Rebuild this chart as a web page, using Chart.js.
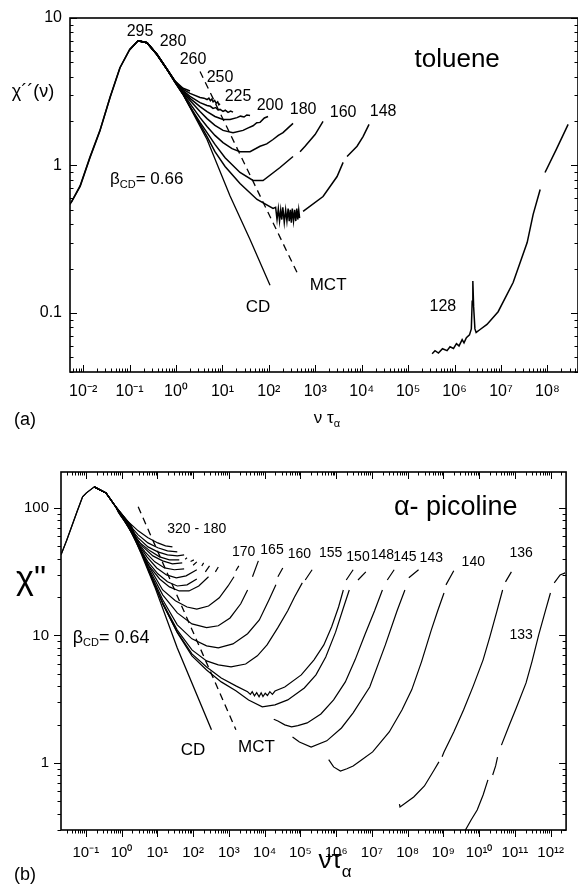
<!DOCTYPE html>
<html><head><meta charset="utf-8">
<script src="https://cdn.jsdelivr.net/npm/chart.js@4.4.0/dist/chart.umd.min.js"></script>
<style>
html,body{margin:0;padding:0;background:#fff;width:578px;height:885px;overflow:hidden}
canvas{position:absolute;left:0}
#ca{top:0}
#cb{top:440px}
</style></head><body>
<canvas id="ca" width="578" height="440"></canvas>
<canvas id="cb" width="578" height="445"></canvas>
<script>
const FONT = '"Liberation Sans", Arial, Helvetica, sans-serif';

// ---------- Panel (a): toluene ----------
const xTickValuesA = [1e-2,1e-1,1e0,1e1,1e2,1e3,1e4,1e5,1e6,1e7,1e8];
const xTickLabelsA = ['10⁻²','10⁻¹','10⁰','10¹','10²','10³','10⁴','10⁵','10⁶','10⁷','10⁸'];
const yTickValuesA = [0.1,1,10];
const yTickLabelsA = ['0.1','1','10'];

const tol295 = [[0.0052,0.544],[0.0086,0.72],[0.014,1.13],[0.023,1.72],[0.038,2.9],[0.062,4.6],[0.10,6.1],[0.152,7.0],[0.237,6.8],[0.389,5.66],[0.64,4.48],[0.95,3.71],[1.22,3.40]];
const tol280 = [[0.0055,0.56],[0.0086,0.73],[0.014,1.14],[0.023,1.73],[0.038,2.9],[0.062,4.6],[0.10,6.1],[0.152,7.0],[0.237,6.8],[0.389,5.66],[0.64,4.5],[0.95,3.74],[1.42,3.34],[2.0,3.2]];
const tol260 = [[0.10,6.1],[0.152,7.0],[0.237,6.8],[0.389,5.68],[0.64,4.5],[0.95,3.73],[1.42,3.28],[2.0,3.08],[3.29,2.89],[4.0,2.86],[4.66,2.80],[5.1,2.86],[5.5,2.75],[5.9,2.82],[6.3,2.70],[6.8,2.76],[7.3,2.64],[7.9,2.70],[8.4,2.58],[8.88,2.62]];
const tol250 = [[0.10,6.1],[0.152,7.0],[0.237,6.8],[0.389,5.66],[0.64,4.48],[0.95,3.72],[1.42,3.22],[2.0,2.94],[3.29,2.67],[4.66,2.55],[5.5,2.52],[6.27,2.44],[7.2,2.47],[8.0,2.38],[8.88,2.40],[10.3,2.33],[11.5,2.37],[13.2,2.29],[15.0,2.34],[16.9,2.30]];
const tol225 = [[0.152,7.0],[0.237,6.8],[0.389,5.66],[0.64,4.48],[0.95,3.71],[1.42,3.17],[2.0,2.85],[3.29,2.51],[4.66,2.32],[6.9,2.15],[10.3,2.05],[14.6,2.05],[20.6,2.11],[24.5,2.16],[29.2,2.13],[33.5,2.20],[39.3,2.18]];
const tol200 = [[0.152,7.0],[0.237,6.8],[0.389,5.66],[0.64,4.48],[0.95,3.70],[1.42,3.12],[2.0,2.76],[3.29,2.32],[4.66,2.08],[6.9,1.87],[10.3,1.73],[16.9,1.67],[27.8,1.73],[36,1.80],[45.6,1.86],[55,1.95],[64.6,1.96],[80,2.10],[96.1,2.15]];
const tol180 = [[0.152,7.0],[0.237,6.8],[0.389,5.66],[0.64,4.48],[0.95,3.69],[1.42,3.08],[2.0,2.63],[3.29,2.11],[4.66,1.84],[6.9,1.60],[10.3,1.43],[16.1,1.30],[23.9,1.24],[39.3,1.24],[64.6,1.35],[90,1.40],[123,1.50],[160,1.60],[202,1.67],[260,1.80],[332,1.93]];
const tol160 = [[0.152,7.0],[0.237,6.8],[0.389,5.66],[0.64,4.48],[0.95,3.68],[1.42,3.03],[2.0,2.51],[3.29,1.96],[4.66,1.67],[6.9,1.39],[11.4,1.13],[23.9,0.897],[45.6,0.791],[75,0.791],[174,0.969],[332,1.15],[400,null],[470,1.24],[603,1.35],[990,1.62],[1470,1.99]];
const tol148 = [[0.152,7.0],[0.237,6.8],[0.389,5.66],[0.64,4.48],[0.95,3.68],[1.42,3.03],[2.0,2.51],[3.29,1.90],[4.66,1.57],[6.9,1.24],[11.4,0.985],[23.9,0.755],[55.7,0.588],[123,0.511],[140,0.52],[150,0.43],[160,0.51],[170,0.42],[180,0.50],[190,0.43],[200,0.52],[215,0.41],[230,0.50],[245,0.42],[260,0.51],[275,0.42],[290,0.50],[305,0.41],[320,0.51],[340,0.42],[360,0.50],[380,0.42],[400,0.51],[420,0.43],[440,0.50],[460,0.44],[500,null],[546,0.488],[1470,0.616],[2950,0.842],[3980,1.05],[4400,null],[4840,1.15],[7950,1.35],[1.07e4,1.57],[1.44e4,1.90]];
const tol128 = [[3.29e5,0.053],[3.8e5,0.0555],[4.5e5,0.0535],[5.5e5,0.0572],[6.9e5,0.0555],[8.0e5,0.059],[9.5e5,0.0575],[1.1e6,0.062],[1.25e6,0.0598],[1.46e6,0.066],[1.6e6,0.0628],[1.8e6,0.068],[2.1e6,0.071],[2.3e6,0.078],[2.4e6,0.12],[2.48e6,0.165],[2.58e6,0.11],[2.75e6,0.078],[2.92e6,0.0738],[3.5e6,0.077],[5.0e6,0.0836],[8.7e6,0.102],[1.83e7,0.161],[3.67e7,0.30],[4.94e7,0.466],[7.0e7,0.687],[7.9e7,null],[8.9e7,0.897],[1.55e8,1.28],[2.8e8,1.90]];
const cdTol = [[0.64,4.48],[0.95,3.66],[1.42,3.03],[4.66,1.50],[14.6,0.62],[39.3,0.315],[106,0.154]];
const mctTol = [[3.29,4.34],[405,0.188]];

// ---------- Panel (b): alpha-picoline ----------
const xTickValuesB = [1e-1,1e0,1e1,1e2,1e3,1e4,1e5,1e6,1e7,1e8,1e9,1e10,1e11,1e12];
const xTickLabelsB = ['10⁻¹','10⁰','10¹','10²','10³','10⁴','10⁵','10⁶','10⁷','10⁸','10⁹','10¹⁰','10¹¹','10¹²'];
const yTickValuesB = [1,10,100];
const yTickLabelsB = ['1','10','100'];

const pic320 = [[0.0202,42.8],[0.0295,56.1],[0.0553,91.4],[0.081,122],[0.104,131],[0.172,146],[0.366,131],[0.685,102],[0.828,93.1],[1.55,77.6],[2.91,66.0],[5.47,58.2],[10.3,53.1],[16.9,50.3],[26.4,49.4]];
const picB2 = [[0.0205,43.2],[0.0295,56.3],[0.0553,91.6],[0.081,122],[0.104,131],[0.172,146],[0.366,131],[0.685,102],[0.828,91.4],[1.55,75.0],[2.91,61.4],[5.47,53.1],[10.3,48.6],[19.2,46.0],[36.1,45.2]];
const picB3 = [[0.172,146],[0.366,131],[0.685,102],[0.939,86.5],[1.55,72.2],[2.91,58.2],[5.47,49.4],[10.3,45.2],[19.2,42.8],[36.1,42.0],[56.1,42.8]];
const picB4 = [[0.172,146],[0.366,131],[0.685,102],[1.06,83.5],[1.76,67.2],[3.30,53.1],[6.20,46.0],[11.6,41.3],[21.8,39.1],[41.0,39.1],[52,null],[60,39.6],[67.7,40.6]];
const picB5 = [[0.172,146],[0.366,131],[0.685,102],[1.13,80.6],[2.13,61.4],[3.99,49.4],[7.49,42.0],[14.1,38.4],[26.4,36.4],[49.6,37.0],[70,null],[85,38.0],[105,39.1]];
const picB6 = [[0.172,146],[0.366,131],[0.685,102],[1.21,79.1],[2.41,57.1],[4.52,45.2],[8.49,37.7],[15.9,33.8],[29.9,32.7],[56.1,33.2],[80,null],[100,35.5],[127,37.7]];
const picB7 = [[0.172,146],[0.366,131],[0.685,102],[1.29,77.6],[2.74,53.1],[5.13,41.3],[9.62,33.8],[18.0,29.8],[33.9,28.3],[63.6,29.3],[127,32.7],[160,null],[175,35.0],[197,37.0]];
const picB8 = [[0.172,146],[0.366,131],[0.685,102],[1.37,76.2],[2.91,50.3],[5.47,37.7],[10.3,30.4],[19.2,26.3],[36.1,24.4],[67.7,24.9],[127,27.7],[180,null],[220,31.5],[288,35.1]];
const pic180 = [[0.172,146],[0.366,131],[0.685,102],[1.46,75.0],[3.30,46.0],[6.20,34.4],[11.6,27.7],[21.8,24.0],[41.0,22.3],[76.7,22.3],[144,24.4],[270,28.8],[350,null],[420,31.5],[507,34.4]];
const pic170 = [[0.172,146],[0.366,131],[0.685,102],[1.55,76.2],[5.47,35.7],[14.1,22.7],[31.9,18.7],[67.7,16.7],[127,16.1],[270,17.0],[540,19.7],[950,24.4],[1390,28.8],[1480,null],[1570,32.1],[1900,35.1]];
const pic165 = [[0.685,102],[1.65,75.0],[5.47,34.4],[14.1,20.8],[36.1,15.0],[92.8,12.3],[238,11.5],[507,11.9],[1080,13.7],[2150,17.7],[3340,22.7],[3900,null],[4580,28.8],[6680,38.4]];
const pic160 = [[0.685,102],[1.76,73.6],[5.47,33.8],[14.1,19.0],[36.1,12.1],[92.8,9.4],[238,8.27],[507,7.98],[1300,8.57],[3340,10.3],[7110,13.2],[1.33e4,19.0],[2.07e4,24.9],[2.2e4,null],[2.35e4,28.8],[3.22e4,33.8]];
const pic155 = [[0.685,102],[1.88,72.2],[5.47,33.2],[14.1,18.0],[36.1,11.0],[92.8,7.69],[238,6.31],[507,5.87],[1150,5.66],[2950,5.97],[6270,6.91],[1.17e4,8.42],[2.35e4,11.5],[4.43e4,15.6],[6.86e4,20.0],[1.13e5,25.8],[1.25e5,null],[1.37e5,27.2],[2.13e5,32.7]];
const pic150 = [[5.47,33.2],[14.1,17.7],[36.1,10.6],[92.8,7.16],[238,5.66],[612,4.64],[1570,4.02],[3340,3.61],[4000,3.45],[4500,3.62],[5200,3.36],[6000,3.56],[7000,3.30],[8000,3.55],[9000,3.32],[1.04e4,3.52],[1.2e4,3.38],[1.4e4,3.62],[1.65e4,3.45],[1.95e4,3.66],[3.66e4,3.94],[1.06e5,4.9],[2.41e5,6.43],[4.53e5,8.42],[7.5e5,11.7],[1.17e6,16.7],[1.59e6,22.7],[1.75e6,null],[1.92e6,27.2],[2.99e6,32.7]];
const pic148 = [[14.1,17.7],[36.1,10.5],[92.8,6.91],[238,5.36],[612,4.32],[1570,3.68],[3560,3.12],[8590,2.75],[1.95e4,2.85],[4.43e4,3.12],[1.29e5,3.87],[2.73e5,4.9],[5.13e5,6.78],[9.65e5,10.6],[1.59e6,16.4],[2.33e6,22.7],[3.0e6,null],[4.09e6,27.2],[6.77e6,31.5]];
const pic145 = [[1.8e4,2.2],[2.35e4,2.13],[3.66e4,1.99],[5.68e4,1.92],[8.5e4,1.96],[1.55e5,2.06],[3.75e5,2.42],[8.5e5,3.12],[1.81e6,4.32],[3.39e6,6.43],[6.36e6,10.1],[1.19e7,15.6],[1.97e7,22.7],[2.3e7,null],[2.7e7,27.2],[4.2e7,32.7]];
const pic143 = [[6.04e4,1.60],[9.4e4,1.46],[2.0e5,1.33],[5.47e5,1.49],[1.41e6,1.88],[2.99e6,2.47],[8.71e6,3.94],[2.38e7,8.42],[5.07e7,15.6],[8.38e7,22.7],[9.5e7,null],[1.08e8,28.3],[2.02e8,32.7]];
const pic140 = [[6.2e5,1.06],[8.5e5,0.931],[1.32e6,0.865],[2.0e6,0.90],[2.99e6,0.947],[5.0e6,1.05],[1.05e7,1.22],[3.06e7,1.75],[6.93e7,2.6],[1.3e8,3.74],[2.44e8,6.2],[4.58e8,11.0],[7.05e8,15.8],[1.04e9,21.5],[1.1e9,null],[1.18e9,24.9],[1.95e9,32.1]];
const pic136 = [[5.9e7,0.475],[6.12e7,0.452],[9.5e7,0.494],[1.48e8,0.541],[2.95e8,0.66],[5.5e8,0.881],[7.5e8,1.02],[8.3e8,null],[9.2e8,1.12],[1.04e9,1.22],[1.95e9,1.75],[3.66e9,2.6],[6.86e9,4.02],[1.29e10,6.43],[1.99e10,9.73],[3.1e10,15.3],[4.53e10,22.7],[5.0e10,null],[5.46e10,26.3],[7.98e10,31.5]];
const pic133 = [[3.6e9,0.26],[4.14e9,0.298],[5.95e9,0.357],[8.81e9,0.428],[1.29e10,0.561],[1.76e10,0.736],[2.1e10,null],[2.39e10,0.805],[2.89e10,0.947],[3.27e10,1.11],[3.7e10,null],[4.2e10,1.38],[7.03e10,1.99],[1.09e11,2.70],[2.05e11,4.24],[2.99e11,6.2],[4.63e11,10.1],[7.21e11,15.8],[9.85e11,21.5],[1.1e12,null],[1.26e12,25.8],[1.84e12,29.8],[2.54e12,30.9]];
const cdPic = [[0.685,102],[1.88,67.2],[8.49,24.0],[36.1,7.98],[326,1.82]];
const mctPic = [[2.91,102],[1574,1.82]];

// ---------- helpers ----------
function ds(label, pairs, opts) {
  return Object.assign({
    label,
    data: pairs.map(p => ({x: p[0], y: p[1]})),
    showLine: true, borderColor: '#000', borderWidth: 1.5,
    pointRadius: 0, fill: false, tension: 0, spanGaps: false
  }, opts || {});
}
function logMarks(min, max) {
  const out = [];
  for (let e = Math.floor(Math.log10(min)); e <= Math.ceil(Math.log10(max)); e++) {
    for (let k = 1; k <= 9; k++) {
      const v = k * Math.pow(10, e);
      if (v >= min * 0.999 && v <= max * 1.001) out.push({v, major: k === 1});
    }
  }
  return out;
}
const frameTicks = {
  id: 'frameTicks',
  afterDatasetsDraw(chart, args, o) {
    const {ctx, chartArea: a} = chart;
    const xs = chart.scales.x, ys = chart.scales.y;
    ctx.save();
    ctx.strokeStyle = '#000';
    ctx.lineWidth = o.frameWidth;
    ctx.strokeRect(a.left, a.top, a.right - a.left, a.bottom - a.top);
    ctx.lineWidth = o.tickWidth;
    ctx.beginPath();
    for (const m of logMarks(xs.min, xs.max)) {
      const p = Math.round(xs.getPixelForValue(m.v)) + 0.5;
      const L = m.major ? o.major : o.minor;
      if (o.bottom) { const s = o.bottom === 'in' ? -1 : 1; ctx.moveTo(p, a.bottom); ctx.lineTo(p, a.bottom + s * L); }
      if (o.top) { const s = o.top === 'in' ? 1 : -1; ctx.moveTo(p, a.top); ctx.lineTo(p, a.top + s * L); }
    }
    for (const m of logMarks(ys.min, ys.max)) {
      const p = Math.round(ys.getPixelForValue(m.v)) + 0.5;
      const L = m.major ? o.major : o.minor;
      if (o.left) { const s = o.left === 'in' ? 1 : -1; ctx.moveTo(a.left, p); ctx.lineTo(a.left + s * L, p); }
      if (o.right) { const s = o.right === 'in' ? -1 : 1; ctx.moveTo(a.right, p); ctx.lineTo(a.right + s * L, p); }
    }
    ctx.stroke();
    ctx.restore();
  }
};
const annot = {
  id: 'annot',
  afterDraw(chart, args, o) {
    const {ctx} = chart;
    const xs = chart.scales.x, ys = chart.scales.y;
    ctx.save();
    ctx.fillStyle = '#000';
    ctx.textBaseline = 'middle';
    for (const it of o.items) {
      const px = it.px !== undefined ? it.px : xs.getPixelForValue(it.x);
      const py = it.py !== undefined ? it.py : ys.getPixelForValue(it.y);
      const parts = it.parts || [{t: it.t, size: it.size}];
      let total = 0;
      for (const p of parts) { ctx.font = p.size + 'px ' + FONT; total += ctx.measureText(p.t).width; }
      let x0 = it.align === 'left' ? px : px - total / 2;
      ctx.textAlign = 'left';
      for (const p of parts) {
        ctx.font = p.size + 'px ' + FONT;
        ctx.fillText(p.t, x0, py + (p.dy || 0));
        x0 += ctx.measureText(p.t).width;
      }
    }
    ctx.restore();
  }
};
function logAxis(min, max, vals, labels, fontSize, pad, fitSize, dim) {
  return {
    type: 'logarithmic', min, max,
    afterFit(s) { s[dim] = fitSize; },
    afterBuildTicks(s) { s.ticks = vals.map(v => ({value: v})); },
    ticks: {
      autoSkip: false, maxRotation: 0, minRotation: 0, padding: pad, color: '#000',
      font: {family: FONT, size: fontSize},
      callback: (v) => { const i = vals.indexOf(v); return i < 0 ? '' : labels[i]; }
    },
    grid: {display: false, drawTicks: false},
    border: {display: false}
  };
}

// ---------- chart (a) ----------
new Chart(document.getElementById('ca'), {
  type: 'scatter',
  data: {datasets: [
    ds('295 K', tol295), ds('280 K', tol280), ds('260 K', tol260), ds('250 K', tol250),
    ds('225 K', tol225), ds('200 K', tol200), ds('180 K', tol180), ds('160 K', tol160),
    ds('148 K', tol148), ds('128 K', tol128),
    ds('CD', cdTol, {borderWidth: 1.3}),
    ds('MCT', mctTol, {borderWidth: 1.3, borderDash: [7, 5]})
  ]},
  options: {
    responsive: false, animation: false, events: [],
    layout: {padding: {top: 18, right: 0, left: 0, bottom: 0}},
    plugins: {
      legend: {display: false}, tooltip: {enabled: false},
      frameTicks: {frameWidth: 1.6, tickWidth: 1, major: 7, minor: 3.5, bottom: 'in', left: 'in', right: 'in', top: null},
      annot: {items: [
        {t: '295', x: 0.168, y: 8.1, size: 16},
        {t: '280', x: 0.86, y: 6.9, size: 16},
        {t: '260', x: 2.32, y: 5.23, size: 16},
        {t: '250', x: 8.88, y: 3.95, size: 16},
        {t: '225', x: 21.7, y: 2.94, size: 16},
        {t: '200', x: 106, y: 2.55, size: 16},
        {t: '180', x: 546, y: 2.40, size: 16},
        {t: '160', x: 3980, y: 2.29, size: 16},
        {t: '148', x: 2.9e4, y: 2.32, size: 16},
        {t: '128', x: 5.6e5, y: 0.111, size: 16},
        {t: 'CD', x: 58.5, y: 0.109, size: 17},
        {t: 'MCT', x: 1890, y: 0.153, size: 17},
        {t: 'toluene', x: 1.14e6, y: 5.23, size: 26},
        {parts: [{t: 'β', size: 17}, {t: 'CD', size: 11, dy: 5}, {t: '= 0.66', size: 17}], x: 0.0378, y: 0.80, align: 'left'},
        {t: 'χ´´(ν)', px: 33, py: 92, size: 18},
        {parts: [{t: 'ν τ', size: 17}, {t: 'α', size: 11, dy: 6}], px: 327, py: 418},
        {t: '(a)', px: 25, py: 420, size: 18}
      ]}
    },
    scales: {
      x: logAxis(0.0052, 4.57e8, xTickValuesA, xTickLabelsA, 16, 10, 68, 'height'),
      y: logAxis(0.0398, 10, yTickValuesA, yTickLabelsA, 16, 8, 70, 'width')
    }
  },
  plugins: [frameTicks, annot]
});

// ---------- chart (b) ----------
new Chart(document.getElementById('cb'), {
  type: 'scatter',
  data: {datasets: [
    ds('320 K', pic320, {borderWidth: 1.2}), ds('320-180 b2', picB2, {borderWidth: 1.2}),
    ds('320-180 b3', picB3, {borderWidth: 1.2}), ds('320-180 b4', picB4, {borderWidth: 1.2}),
    ds('320-180 b5', picB5, {borderWidth: 1.2}), ds('320-180 b6', picB6, {borderWidth: 1.2}),
    ds('320-180 b7', picB7, {borderWidth: 1.2}), ds('320-180 b8', picB8, {borderWidth: 1.2}),
    ds('180 K', pic180, {borderWidth: 1.2}),
    ds('170 K', pic170, {borderWidth: 1.2}), ds('165 K', pic165, {borderWidth: 1.2}),
    ds('160 K', pic160, {borderWidth: 1.2}), ds('155 K', pic155, {borderWidth: 1.2}),
    ds('150 K', pic150, {borderWidth: 1.2}), ds('148 K', pic148, {borderWidth: 1.2}),
    ds('145 K', pic145, {borderWidth: 1.2}), ds('143 K', pic143, {borderWidth: 1.2}),
    ds('140 K', pic140, {borderWidth: 1.2}), ds('136 K', pic136, {borderWidth: 1.2}),
    ds('133 K', pic133, {borderWidth: 1.2}),
    ds('CD', cdPic, {borderWidth: 1.3}),
    ds('MCT', mctPic, {borderWidth: 1.3, borderDash: [7, 5]})
  ]},
  options: {
    responsive: false, animation: false, events: [],
    layout: {padding: {top: 32, right: 0, left: 0, bottom: 0}},
    plugins: {
      legend: {display: false}, tooltip: {enabled: false},
      frameTicks: {frameWidth: 1.6, tickWidth: 1, major: 7, minor: 3.5, bottom: 'out', left: 'out', right: 'in', top: 'in'},
      annot: {items: [
        {t: '320 - 180', x: 127, y: 68.4, size: 14},
        {t: '170', x: 2600, y: 45.2, size: 14},
        {t: '165', x: 1.61e4, y: 46.9, size: 14},
        {t: '160', x: 9.4e4, y: 43.6, size: 14},
        {t: '155', x: 7.03e5, y: 44.4, size: 14},
        {t: '150', x: 4.09e6, y: 41.3, size: 14},
        {t: '148', x: 1.97e7, y: 42.8, size: 14},
        {t: '145', x: 8.38e7, y: 41.3, size: 14},
        {t: '143', x: 4.58e8, y: 40.6, size: 14},
        {t: '140', x: 6.86e9, y: 37.7, size: 14},
        {t: '136', x: 1.5e11, y: 44.4, size: 14},
        {t: '133', x: 1.5e11, y: 10.1, size: 14},
        {t: 'CD', x: 98.8, y: 1.26, size: 17},
        {t: 'MCT', x: 5900, y: 1.33, size: 17},
        {t: 'α- picoline', x: 2.21e9, y: 100, size: 27},
        {parts: [{t: 'β', size: 18}, {t: 'CD', size: 11, dy: 5}, {t: '= 0.64', size: 18}], x: 0.043, y: 9.55, align: 'left'},
        {t: 'χ"', px: 31, py: 140, size: 34},
        {parts: [{t: 'ντ', size: 26}, {t: 'α', size: 17, dy: 11}], px: 335, py: 421},
        {t: '(b)', px: 25, py: 435, size: 18}
      ]}
    },
    scales: {
      x: logAxis(0.0202, 2.7e12, xTickValuesB, xTickLabelsB, 15, 14, 55, 'height'),
      y: logAxis(0.298, 191, yTickValuesB, yTickLabelsB, 15, 12, 61, 'width')
    }
  },
  plugins: [frameTicks, annot]
});
</script>
</body></html>
